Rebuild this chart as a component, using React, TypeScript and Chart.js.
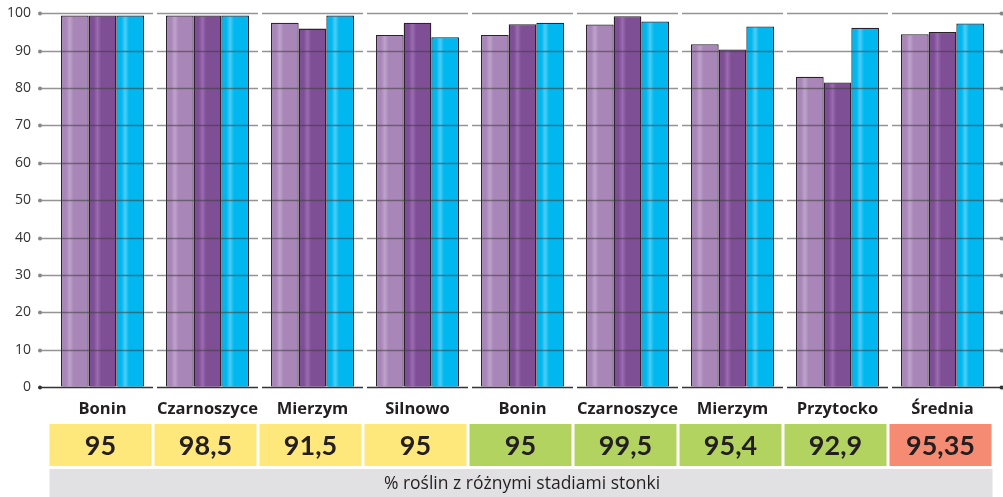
import React, { useEffect, useRef } from "react";
import { Chart, registerables } from "chart.js";

Chart.register(...registerables);

const categories = ["Bonin", "Czarnoszyce", "Mierzym", "Silnowo", "Bonin", "Czarnoszyce", "Mierzym", "Przytocko", "Średnia"];
const series1 = [99.4, 99.4, 97.5, 94.2, 94.2, 97.0, 91.7, 83.0, 94.4];
const series2 = [99.4, 99.4, 95.9, 97.5, 97.1, 99.2, 90.3, 81.5, 95.0];
const series3 = [99.4, 99.4, 99.4, 93.6, 97.5, 97.8, 96.5, 96.1, 97.3];
const tableValues = ["95", "98,5", "91,5", "95", "95", "99,5", "95,4", "92,9", "95,35"];
const tableColors = ["#fee77b", "#fee77b", "#fee77b", "#fee77b", "#b3d360", "#b3d360", "#b3d360", "#b3d360", "#f48b72"];
const footerText = "% roślin z różnymi stadiami stonki";

const seriesColors = ["#a886b8", "#7f4f96", "#00b8ef"];
const stripeColors = ["#bea3cc", "#9a6bb0", "#4ccdf6"];

const FONT = "Lato, 'Open Sans', sans-serif";
const FONT2 = "'Open Sans', Lato, sans-serif";

const barPaint = {
  id: "barPaint",
  afterDatasetsDraw(chart: any) {
    const ctx = chart.ctx;
    chart.data.datasets.forEach((_ds: any, di: number) => {
      const meta = chart.getDatasetMeta(di);
      meta.data.forEach((bar: any) => {
        const { x, y, base, width } = bar.getProps(["x", "y", "base", "width"], true);
        const l = x - width / 2 + 1.3;
        const r = x + width / 2 - 1.3;
        const t = y + 1.3;
        const b = base;
        const g = ctx.createLinearGradient(l, 0, r, 0);
        g.addColorStop(0, seriesColors[di]);
        g.addColorStop(0.15, seriesColors[di]);
        g.addColorStop(0.3, stripeColors[di]);
        g.addColorStop(0.45, seriesColors[di]);
        g.addColorStop(1, seriesColors[di]);
        ctx.save();
        ctx.fillStyle = g;
        ctx.fillRect(l, t, r - l, b - t);
        ctx.restore();
      });
    });
  },
};

const gridPaint = {
  id: "gridPaint",
  afterDatasetsDraw(chart: any) {
    const ctx = chart.ctx;
    const ys = chart.scales.y;
    const xs = chart.scales.x;
    const n = categories.length;
    const step = xs.width / n;
    ctx.save();
    ys.ticks.forEach((tk: any) => {
      const v = tk.value;
      const py = Math.round(ys.getPixelForValue(v)) + 0.5;
      const zero = v === 0;
      ctx.strokeStyle = zero ? "rgba(30,30,30,0.9)" : "rgba(60,60,60,0.55)";
      ctx.lineWidth = zero ? 1.6 : 1.3;
      for (let i = 0; i < n; i++) {
        let a = xs.left + i * step + 2;
        let b = xs.left + (i + 1) * step - 2;
        if (i === 0) a = xs.left - 10;
        if (i === n - 1) b = chart.width - 1;
        ctx.beginPath();
        ctx.moveTo(a, py);
        ctx.lineTo(b, py);
        ctx.stroke();
      }
      ctx.fillStyle = zero ? "#333" : "#888";
      ctx.beginPath();
      ctx.arc(xs.left - 10, py, 2, 0, Math.PI * 2);
      ctx.fill();
      ctx.beginPath();
      ctx.arc(chart.width - 1.5, py, 2, 0, Math.PI * 2);
      ctx.fill();
    });
    ctx.restore();
  },
};

const tablePaint = {
  id: "tablePaint",
  afterDraw(chart: any) {
    const ctx = chart.ctx;
    const xs = chart.scales.x;
    const n = categories.length;
    const step = xs.width / n;
    ctx.save();
    for (let i = 0; i < n; i++) {
      const a = xs.left + i * step - 0.5;
      const w = step - 3;
      ctx.fillStyle = tableColors[i];
      ctx.fillRect(a, 424, w, 42);
      ctx.fillStyle = "#231f20";
      ctx.font = `bold 27px ${FONT}`;
      ctx.textAlign = "center";
      ctx.textBaseline = "middle";
      ctx.fillText(tableValues[i], a + w / 2, 446);
    }
    ctx.fillStyle = "#e1e1e3";
    ctx.fillRect(xs.left - 0.5, 469, xs.width - 2, 28);
    ctx.fillStyle = "#231f20";
    ctx.font = `17.5px ${FONT2}`;
    ctx.textAlign = "center";
    ctx.textBaseline = "middle";
    ctx.fillText(footerText, xs.left + (xs.width - 2) / 2 + 0.5, 484);
    ctx.restore();
  },
};

export default function App() {
  const ref = useRef<HTMLCanvasElement>(null);
  useEffect(() => {
    document.body.style.margin = "0";
    const chart = new Chart(ref.current!, {
      type: "bar",
      data: {
        labels: categories,
        datasets: [series1, series2, series3].map((d, i) => ({
          label: "s" + i,
          data: d,
          backgroundColor: seriesColors[i],
          borderColor: "#2a1f2d",
          borderWidth: 1.3,
          barPercentage: 1,
          categoryPercentage: 0.79,
        })),
      },
      options: {
        responsive: false,
        animation: false,
        layout: { padding: { top: 13.3, right: 8, left: 0, bottom: 0 } },
        plugins: { legend: { display: false }, tooltip: { enabled: false } },
        scales: {
          x: {
            grid: { display: false },
            border: { display: false },
            ticks: {
              color: "#231f20",
              font: { family: FONT2, size: 16.5, weight: "bold" },
              padding: 4,
              maxRotation: 0,
              minRotation: 0,
              autoSkip: false,
            },
            afterFit(scale: any) {
              scale.height = 110;
            },
          },
          y: {
            min: 0,
            max: 100,
            grid: { display: true, drawOnChartArea: false, drawTicks: true, tickLength: 19, tickColor: "rgba(0,0,0,0)" },
            border: { display: false },
            ticks: { stepSize: 10, color: "#333", font: { family: FONT2, size: 14 }, padding: 0 },
            afterFit(scale: any) {
              scale.width = 50;
            },
          },
        },
      },
      plugins: [barPaint, gridPaint, tablePaint],
    });
    return () => chart.destroy();
  }, []);
  return <canvas ref={ref} width={1003} height={497} style={{ display: "block" }} />;
}
